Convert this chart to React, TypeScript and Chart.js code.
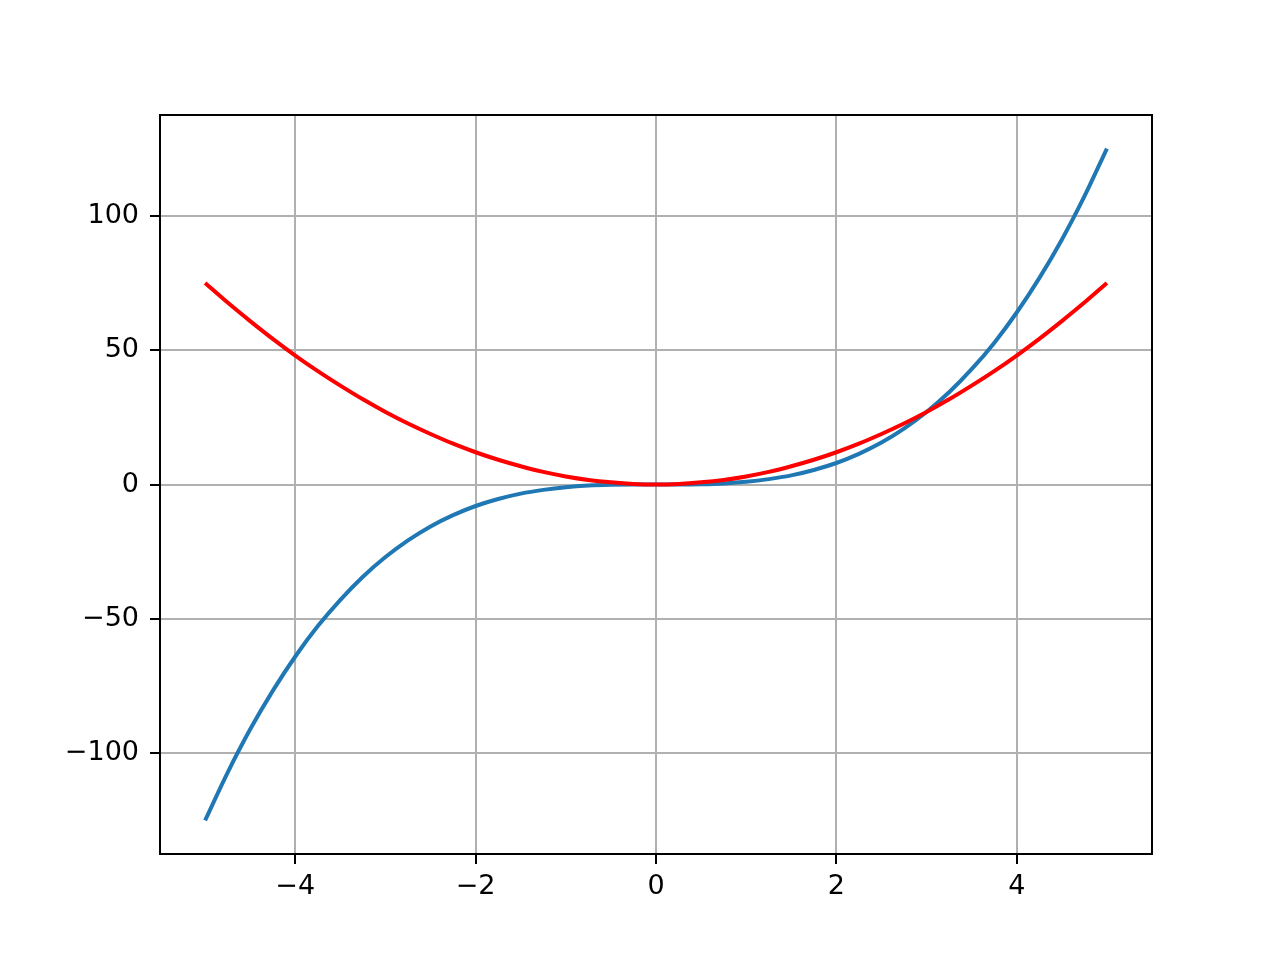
import { useEffect, useRef } from "react";
import { Chart, registerables } from "chart.js";

Chart.register(...registerables);

const XS = [
  -5, -4.75, -4.5, -4.25, -4, -3.75, -3.5, -3.25, -3, -2.75, -2.5, -2.25, -2, -1.75, -1.5, -1.25, -1, -0.75, -0.5, -0.25,
  0, 0.25, 0.5, 0.75, 1, 1.25, 1.5, 1.75, 2, 2.25, 2.5, 2.75, 3, 3.25, 3.5, 3.75, 4, 4.25, 4.5, 4.75, 5,
];
const CUBE = [
  -125, -107.2, -91.1, -76.8, -64, -52.7, -42.9, -34.3, -27, -20.8, -15.6, -11.4, -8, -5.4, -3.4, -2, -1, -0.4, -0.1, 0,
  0, 0, 0.1, 0.4, 1, 2, 3.4, 5.4, 8, 11.4, 15.6, 20.8, 27, 34.3, 42.9, 52.7, 64, 76.8, 91.1, 107.2, 125,
];
const PARAB = [
  75, 67.7, 60.8, 54.2, 48, 42.2, 36.8, 31.7, 27, 22.7, 18.8, 15.2, 12, 9.2, 6.8, 4.7, 3, 1.7, 0.8, 0.2,
  0, 0.2, 0.8, 1.7, 3, 4.7, 6.8, 9.2, 12, 15.2, 18.8, 22.7, 27, 31.7, 36.8, 42.2, 48, 54.2, 60.8, 67.7, 75,
];
const X_TICKS = [-4, -2, 0, 2, 4];
const Y_TICKS = [-100, -50, 0, 50, 100];

const W = 1280;
const H = 960;
const FONT = "'DejaVu Sans', sans-serif";

const fmt = (v: number) => (v < 0 ? `\u2212${Math.abs(v)}` : `${v}`);

const framePlugin = {
  id: "frame",
  afterDraw(chart: Chart) {
    const { ctx, chartArea: a } = chart;
    ctx.save();
    ctx.strokeStyle = "#000";
    ctx.lineWidth = 2;
    ctx.strokeRect(a.left, a.top, a.right - a.left, a.bottom - a.top);
    ctx.restore();
  },
};

export default function App() {
  const canvasRef = useRef<HTMLCanvasElement>(null);

  useEffect(() => {
    if (!canvasRef.current) return;
    const pts = (ys: number[]) => XS.map((x, i) => ({ x, y: ys[i] }));

    const chart = new Chart(canvasRef.current, {
      type: "line",
      data: {
        datasets: [
          {
            data: pts(CUBE),
            borderColor: "#1f77b4",
            borderWidth: 4,
            pointRadius: 0,
            cubicInterpolationMode: "monotone",
            order: 1,
          },
          {
            data: pts(PARAB),
            borderColor: "#ff0000",
            borderWidth: 4,
            pointRadius: 0,
            cubicInterpolationMode: "monotone",
            order: 0,
          },
        ],
      },
      options: {
        animation: false,
        responsive: false,
        devicePixelRatio: 1,
        layout: { padding: { left: 0, right: 128, top: 115, bottom: 0 } },
        plugins: { legend: { display: false }, tooltip: { enabled: false } },
        scales: {
          x: {
            type: "linear",
            min: -5.5,
            max: 5.5,
            afterBuildTicks: (s: any) => { s.ticks = X_TICKS.map((value) => ({ value })); },
            afterFit: (s: any) => { s.height = H - 854; },
            grid: { color: "#b0b0b0", lineWidth: 2, tickColor: "#000", tickLength: 10, drawTicks: true },
            border: { display: false },
            ticks: {
              color: "#000",
              font: { family: FONT, size: 27 },
              padding: 7,
              maxRotation: 0,
              callback: (v: any) => fmt(Number(v)),
            },
          },
          y: {
            type: "linear",
            min: -137.5,
            max: 137.5,
            afterBuildTicks: (s: any) => { s.ticks = Y_TICKS.map((value) => ({ value })); },
            afterFit: (s: any) => { s.width = 160; },
            grid: { color: "#b0b0b0", lineWidth: 2, tickColor: "#000", tickLength: 10, drawTicks: true },
            border: { display: false },
            ticks: {
              color: "#000",
              font: { family: FONT, size: 27 },
              padding: 11,
              callback: (v: any) => fmt(Number(v)),
            },
          },
        },
      },
      plugins: [framePlugin],
    });

    return () => chart.destroy();
  }, []);

  return (
    <div style={{ position: "absolute", left: 0, top: 0, width: W, height: H, background: "#fff" }}>
      <canvas ref={canvasRef} width={W} height={H} style={{ width: W, height: H }} />
    </div>
  );
}
